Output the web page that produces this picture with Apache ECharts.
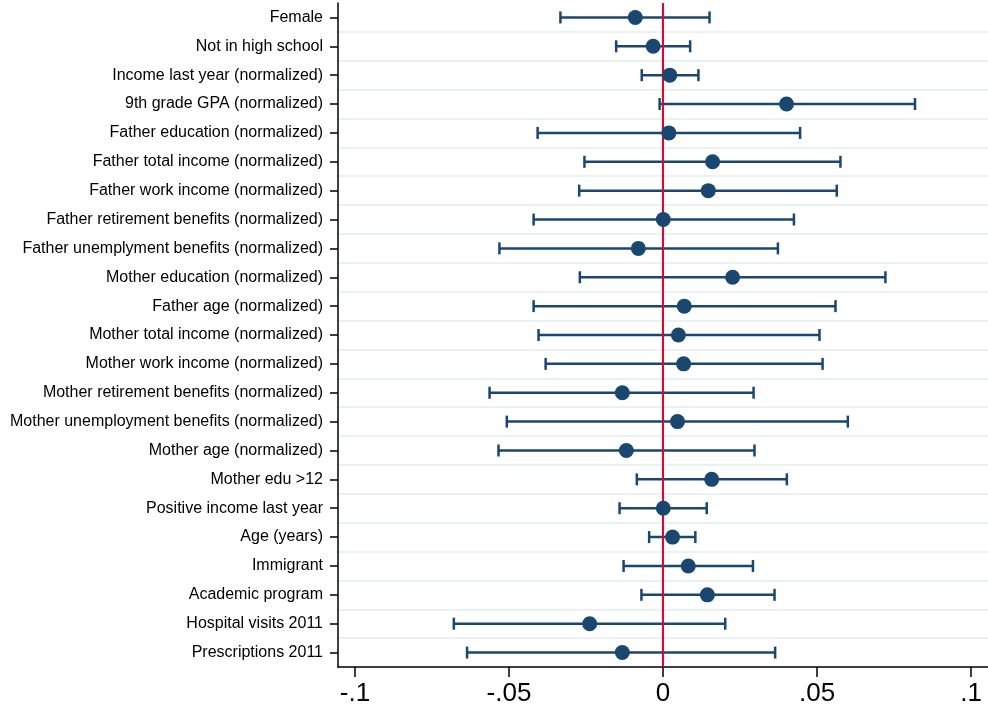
<!DOCTYPE html>
<html>
<head>
<meta charset="utf-8">
<script src="https://cdn.jsdelivr.net/npm/echarts@6/dist/echarts.min.js"></script>
<style>html,body{margin:0;padding:0;background:#fff}#c{width:988px;height:708px}</style>
</head>
<body>
<div id="c"></div>
<script>
const categories = [
  "Female","Not in high school","Income last year (normalized)","9th grade GPA (normalized)",
  "Father education (normalized)","Father total income (normalized)","Father work income (normalized)",
  "Father retirement benefits (normalized)","Father unemplyment benefits (normalized)",
  "Mother education (normalized)","Father age (normalized)","Mother total income (normalized)",
  "Mother work income (normalized)","Mother retirement benefits (normalized)",
  "Mother unemployment benefits (normalized)","Mother age (normalized)","Mother edu >12",
  "Positive income last year","Age (years)","Immigrant","Academic program",
  "Hospital visits 2011","Prescriptions 2011"
];
const estimates = [-0.0090,-0.0032,0.0022,0.0401,0.0019,0.0161,0.0147,0.0001,-0.0080,0.0226,0.0069,0.0050,0.0067,-0.0132,0.0047,-0.0119,0.0158,0.0001,0.0031,0.0082,0.0144,-0.0238,-0.0132];
const ciLow = [-0.0333,-0.0152,-0.0069,-0.0011,-0.0407,-0.0255,-0.0272,-0.0420,-0.0531,-0.0270,-0.0420,-0.0404,-0.0381,-0.0563,-0.0507,-0.0534,-0.0085,-0.0141,-0.0045,-0.0128,-0.0070,-0.0679,-0.0636];
const ciHigh = [0.0151,0.0088,0.0115,0.0818,0.0445,0.0576,0.0564,0.0425,0.0373,0.0722,0.0560,0.0508,0.0518,0.0294,0.0600,0.0297,0.0402,0.0142,0.0105,0.0292,0.0362,0.0202,0.0364];
const xTicks = [-0.1,-0.05,0,0.05,0.1];
const tickLabels = {"-0.1":"-.1","-0.05":"-.05","0":"0","0.05":".05","0.1":".1"};

const navy = "#1a476f";
const chart = echarts.init(document.getElementById('c'), null, {renderer:'canvas'});
chart.setOption({
  animation:false,
  backgroundColor:'#fff',
  grid:{left:338, right:0, top:3, bottom:41, containLabel:false},
  xAxis:{
    type:'value', min:-0.1055, max:0.1055,
    axisLine:{show:true, onZero:false, lineStyle:{color:'#000', width:1.5}},
    axisTick:{show:true, length:10, lineStyle:{color:'#000', width:1.5},
      customValues: xTicks},
    axisLabel:{show:true, fontFamily:'Liberation Sans, Arial, sans-serif', fontSize:26, color:'#000', margin:14,
      customValues: xTicks,
      formatter: v => { const k = String(Math.round(v*100)/100); return tickLabels[k] !== undefined ? tickLabels[k] : k; }},
    splitLine:{show:false}
  },
  yAxis:{
    type:'category', data:categories, inverse:true,
    axisLine:{show:true, onZero:false, lineStyle:{color:'#000', width:1.5}},
    axisTick:{show:true, alignWithLabel:true, length:8, lineStyle:{color:'#000', width:1.5}},
    axisLabel:{fontFamily:'Liberation Sans, Arial, sans-serif', fontSize:16, color:'#000', margin:15, padding:[4,0,0,0]},
    splitLine:{show:true, showMinLine:false, showMaxLine:false, lineStyle:{color:'#eaf1f3', width:2}}
  },
  series:[
    {
      type:'custom', z:2,
      data: categories.map((c,i)=>[ciLow[i], ciHigh[i], i]),
      renderItem:function(params, api){
        const lo = api.coord([api.value(0), api.value(2)]);
        const hi = api.coord([api.value(1), api.value(2)]);
        const h = 6;
        const st = {stroke:navy, lineWidth:2.5};
        return {type:'group', children:[
          {type:'line', shape:{x1:lo[0],y1:lo[1],x2:hi[0],y2:hi[1]}, style:st},
          {type:'line', shape:{x1:lo[0],y1:lo[1]-h,x2:lo[0],y2:lo[1]+h}, style:st},
          {type:'line', shape:{x1:hi[0],y1:hi[1]-h,x2:hi[0],y2:hi[1]+h}, style:st}
        ]};
      },
      encode:{x:[0,1], y:2}
    },
    {
      type:'scatter', z:4, data:[], symbolSize:0,
      markLine:{silent:true, symbol:'none', label:{show:false},
        lineStyle:{color:'#c8103e', width:2.2, type:'solid'},
        data:[{xAxis:0}]}
    },
    {
      type:'scatter', z:6, symbol:'circle', symbolSize:15,
      itemStyle:{color:navy, opacity:1},
      data: categories.map((c,i)=>[estimates[i], c])
    }
  ]
});
</script>
</body>
</html>
